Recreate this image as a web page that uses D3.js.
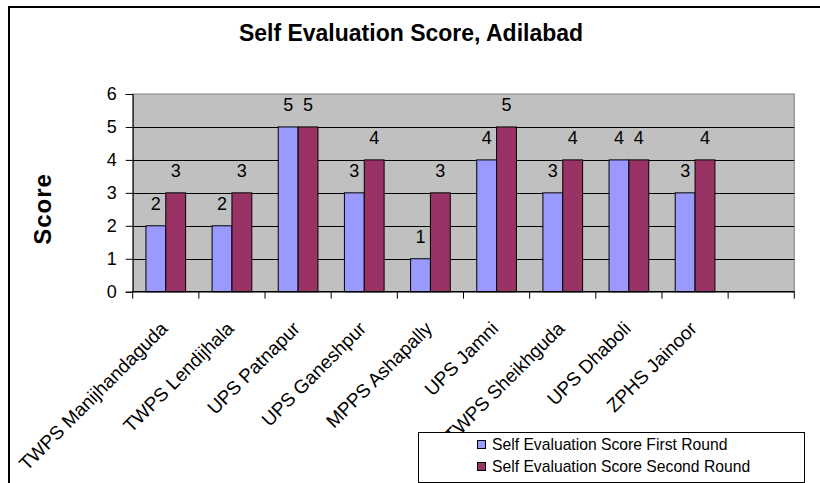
<!DOCTYPE html>
<html><head><meta charset="utf-8">
<script src="https://cdn.jsdelivr.net/npm/d3@7"></script>
<style>body{margin:0;background:#fff}svg{display:block;font-family:Arial,"Liberation Sans",sans-serif}</style>
</head><body><svg id="c" width="820" height="483"></svg>
<script>
const categories = ["TWPS Manijhandaguda","TWPS Lendijhala","UPS Patnapur","UPS Ganeshpur","MPPS Ashapally","UPS Jamni","TWPS Sheikhguda","UPS Dhaboli","ZPHS Jainoor"];
const seriesNames = ["Self Evaluation Score First Round","Self Evaluation Score Second Round"];
const firstRound = [2,2,5,3,1,4,3,4,3];
const secondRound = [3,3,5,4,3,5,4,4,4];
const yTicks = [0,1,2,3,4,5,6];
const colors = ["#9999ff","#993366"];

const svg = d3.select("#c");
const L = 132.7, R = 794.3, T = 94, B = 291.7;
const slots = categories.concat([" "]);
const x = d3.scaleBand().domain(slots).range([L, R]);
const sub = d3.scaleBand().domain([0,1]).range([x.bandwidth()*0.2, x.bandwidth()*0.8]);
const y = d3.scaleLinear().domain([0,6]).range([B, T]);

// outer frame
svg.append("rect").attr("x",9).attr("y",7).attr("width",830).attr("height",500)
  .attr("fill","#fff").attr("stroke","#000").attr("stroke-width",2);

// title
svg.append("text").attr("x",411).attr("y",41).attr("text-anchor","middle")
  .attr("font-weight","bold").attr("font-size",23).text("Self Evaluation Score, Adilabad");

// plot area
svg.append("rect").attr("x",L).attr("y",T).attr("width",R-L).attr("height",B-T)
  .attr("fill","#c0c0c0").attr("stroke","#808080").attr("stroke-width",1);

// gridlines
svg.append("g").selectAll("line").data(yTicks.filter(d=>d>0 && d<6)).join("line")
  .attr("x1",L).attr("x2",R).attr("y1",d=>Math.round(y(d))+0.5).attr("y2",d=>Math.round(y(d))+0.5)
  .attr("stroke","#000").attr("stroke-width",1);

// bars
const data = categories.map((c,i)=>({c, v:[firstRound[i], secondRound[i]]}));
const g = svg.append("g");
data.forEach(d=>{
  d.v.forEach((v,s)=>{
    g.append("rect").attr("x",x(d.c)+sub(s)).attr("y",y(v)).attr("width",sub.bandwidth()).attr("height",B-y(v))
      .attr("fill",colors[s]).attr("stroke","#000").attr("stroke-width",1);
    g.append("text").attr("x",x(d.c)+sub(s)+sub.bandwidth()/2).attr("y",y(v)-16)
      .attr("text-anchor","middle").attr("font-size",18).text(v);
  });
});

// y axis
const ya = svg.append("g").attr("transform",`translate(${L},0)`)
  .call(d3.axisLeft(y).tickValues(yTicks).tickSize(7).tickPadding(9).tickFormat(d3.format("d")));
ya.select(".domain").attr("stroke","#000");
ya.selectAll("text").attr("font-size",18).attr("font-family","Arial,'Liberation Sans',sans-serif").attr("fill","#000");

// x axis
const xa = svg.append("g").attr("transform",`translate(0,${B})`);
xa.append("line").attr("x1",L).attr("x2",R).attr("stroke","#000").attr("stroke-width",1.5);
const bounds = slots.map(s=>x(s)).concat([R]);
xa.selectAll("line.t").data(bounds).join("line").attr("class","t")
  .attr("x1",d=>d).attr("x2",d=>d).attr("y1",0).attr("y2",7).attr("stroke","#000");
xa.selectAll("text").data(categories).join("text")
  .attr("text-anchor","end").attr("font-size",19)
  .attr("transform",d=>`translate(${x(d)+x.bandwidth()/2+3},38) rotate(-45)`).text(d=>d);

// y title
svg.append("text").attr("transform","translate(51,209) rotate(-90)").attr("text-anchor","middle")
  .attr("font-weight","bold").attr("font-size",24).attr("letter-spacing",1).text("Score");

// legend
const lg = svg.append("g");
lg.append("rect").attr("x",418.5).attr("y",432.5).attr("width",386).attr("height",50)
  .attr("fill","#fff").attr("stroke","#000").attr("stroke-width",1);
seriesNames.forEach((n,i)=>{
  lg.append("rect").attr("x",477.5).attr("y",440.5+i*22).attr("width",8).attr("height",8)
    .attr("fill",colors[i]).attr("stroke","#000");
  lg.append("text").attr("x",492).attr("y",450+i*22).attr("font-size",15.7).text(n);
});
</script></body></html>
